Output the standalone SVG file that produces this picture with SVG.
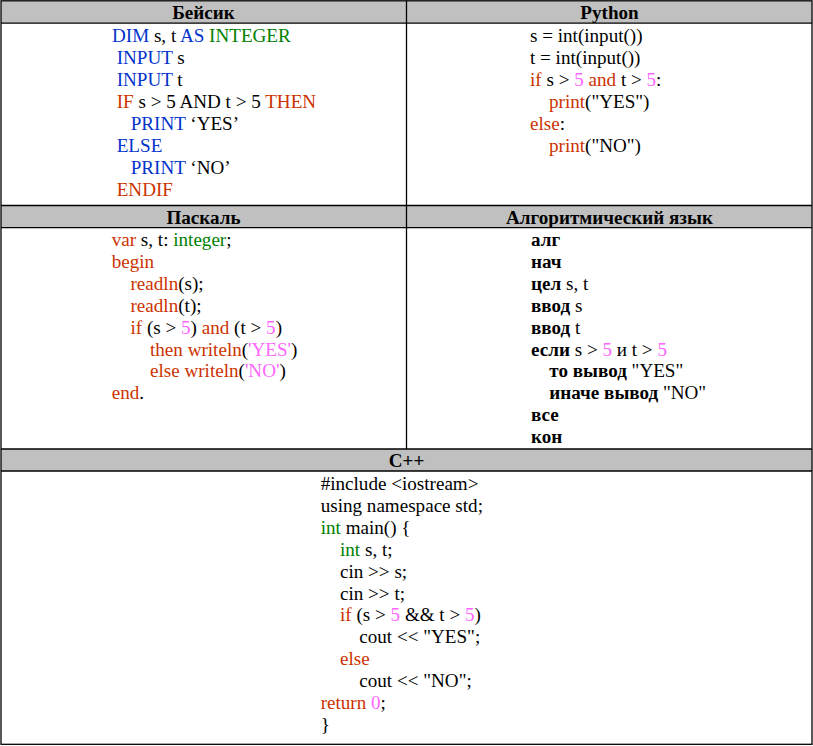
<svg xmlns="http://www.w3.org/2000/svg" width="813" height="746" viewBox="0 0 813 746">
<style>
text{font-family:"Liberation Serif","Times New Roman",serif;font-size:19.1px;fill:#000}
.h{font-weight:bold;text-anchor:middle}
.k{font-weight:bold}
.b{fill:#0033CC}
.g{fill:#008000}
.r{fill:#CC3300}
.p{fill:#FF66FF}
.hdr{fill:#C0C0C0}
.ln{stroke:#000;stroke-width:1.3;fill:none}
</style>
<rect width="813" height="746" fill="#fff"/>
<g id="header-fills">
<rect class="hdr" x="1" y="1" width="811" height="22"/>
<rect class="hdr" x="1" y="205.5" width="811" height="22"/>
<rect class="hdr" x="1" y="449" width="811" height="22"/>
</g>
<g id="grid">
<rect class="ln" x="1" y="0.8" width="811" height="743.5"/>
<line class="ln" x1="1" y1="23.2" x2="812" y2="23.2"/>
<line class="ln" x1="1" y1="205.5" x2="812" y2="205.5"/>
<line class="ln" x1="1" y1="227.7" x2="812" y2="227.7"/>
<line class="ln" x1="1" y1="449" x2="812" y2="449"/>
<line class="ln" x1="1" y1="471" x2="812" y2="471"/>
<line class="ln" x1="406.5" y1="0.8" x2="406.5" y2="449"/>
</g>
<g id="basic">
<text class="h" x="203.5" y="19">Бейсик</text>
<text x="112" y="42.3"><tspan class="b">DIM</tspan> s, t <tspan class="b">AS</tspan> <tspan class="g">INTEGER</tspan></text>
<text x="116.7" y="64.2"><tspan class="b">INPUT</tspan> s</text>
<text x="116.7" y="86.1"><tspan class="b">INPUT</tspan> t</text>
<text x="116.7" y="108"><tspan class="r">IF</tspan> s &gt; 5 AND t &gt; 5 <tspan class="r">THEN</tspan></text>
<text x="130.7" y="129.9"><tspan class="b">PRINT</tspan> ‘YES’</text>
<text x="116.7" y="151.8" class="b">ELSE</text>
<text x="130.7" y="173.7"><tspan class="b">PRINT</tspan> ‘NO’</text>
<text x="116.7" y="195.6" class="r">ENDIF</text>
</g>
<g id="python">
<text class="h" x="609.5" y="19">Python</text>
<text x="530" y="42.3">s = int(input())</text>
<text x="530" y="64.2">t = int(input())</text>
<text x="530" y="86.1"><tspan class="r">if</tspan> s &gt; <tspan class="p">5</tspan> <tspan class="r">and</tspan> t &gt; <tspan class="p">5</tspan>:</text>
<text x="549" y="108"><tspan class="r">print</tspan>("YES")</text>
<text x="530" y="129.9"><tspan class="r">else</tspan>:</text>
<text x="549" y="151.8"><tspan class="r">print</tspan>("NO")</text>
</g>
<g id="pascal">
<text class="h" x="203.5" y="224.3">Паскаль</text>
<text x="111.7" y="246"><tspan class="r">var</tspan> s, t: <tspan class="g">integer</tspan>;</text>
<text x="111.7" y="267.9" class="r">begin</text>
<text x="130.5" y="289.8"><tspan class="r">readln</tspan>(s);</text>
<text x="130.5" y="311.7"><tspan class="r">readln</tspan>(t);</text>
<text x="130.5" y="333.6"><tspan class="r">if</tspan> (s &gt; <tspan class="p">5</tspan>) <tspan class="r">and</tspan> (t &gt; <tspan class="p">5</tspan>)</text>
<text x="150" y="355.5"><tspan class="r">then writeln</tspan>(<tspan class="p">'YES'</tspan>)</text>
<text x="150" y="377.4"><tspan class="r">else writeln</tspan>(<tspan class="p">'NO'</tspan>)</text>
<text x="111.7" y="399.3"><tspan class="r">end</tspan>.</text>
</g>
<g id="algorithmic">
<text class="h" x="609.5" y="224.3">Алгоритмический язык</text>
<text x="531" y="246" class="k">алг</text>
<text x="531" y="267.9" class="k">нач</text>
<text x="531" y="289.8"><tspan class="k">цел</tspan> s, t</text>
<text x="531" y="311.7"><tspan class="k">ввод</tspan> s</text>
<text x="531" y="333.6"><tspan class="k">ввод</tspan> t</text>
<text x="531" y="355.5"><tspan class="k">если</tspan> s &gt; <tspan class="p">5</tspan> и t &gt; <tspan class="p">5</tspan></text>
<text x="549.3" y="377.4"><tspan class="k">то вывод</tspan> "YES"</text>
<text x="549.3" y="399.3"><tspan class="k">иначе вывод</tspan> "NO"</text>
<text x="531" y="421.2" class="k">все</text>
<text x="531" y="443.1" class="k">кон</text>
</g>
<g id="cpp">
<text class="h" x="406.5" y="466.8">C++</text>
<text x="320.7" y="490">#include &lt;iostream&gt;</text>
<text x="320.7" y="511.9">using namespace std;</text>
<text x="320.7" y="533.8"><tspan class="g">int</tspan> main() {</text>
<text x="340" y="555.7"><tspan class="g">int</tspan> s, t;</text>
<text x="340" y="577.6">cin &gt;&gt; s;</text>
<text x="340" y="599.5">cin &gt;&gt; t;</text>
<text x="340" y="621.4"><tspan class="r">if</tspan> (s &gt; <tspan class="p">5</tspan> &amp;&amp; t &gt; <tspan class="p">5</tspan>)</text>
<text x="359.3" y="643.3">cout &lt;&lt; "YES";</text>
<text x="340" y="665.2" class="r">else</text>
<text x="359.3" y="687.1">cout &lt;&lt; "NO";</text>
<text x="320.7" y="709"><tspan class="r">return</tspan> <tspan class="p">0</tspan>;</text>
<text x="320.7" y="730.9">}</text>
</g>
</svg>
